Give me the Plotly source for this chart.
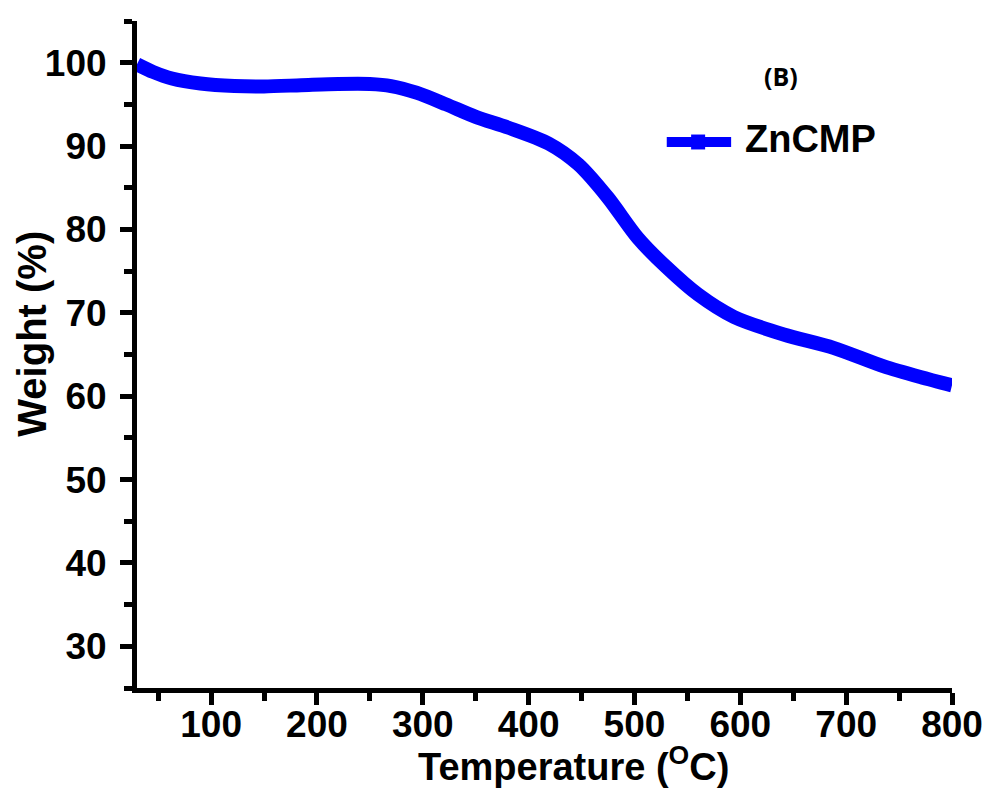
import plotly.graph_objects as go

# TGA curve of ZnCMP: temperature (°C) vs residual weight (%)
temperature = [30, 45, 63, 90, 122, 150, 185, 220, 250, 270, 294, 322, 350, 381,
               419, 447, 475, 503, 530, 560, 594, 641, 688, 735, 770, 800]
weight = [99.8, 98.9, 98.1, 97.5, 97.2, 97.15, 97.3, 97.45, 97.45, 97.2, 96.4,
          95.0, 93.5, 92.2, 90.3, 87.8, 83.8, 79.0, 75.5, 72.2, 69.5, 67.4,
          65.8, 63.6, 62.3, 61.3]

x_ticks = [100, 200, 300, 400, 500, 600, 700, 800]
y_ticks = [30, 40, 50, 60, 70, 80, 90, 100]
series_name = "ZnCMP"
panel_label = "(B)"

BLUE = "#0000FF"
FONT = "Liberation Sans"

fig = go.Figure()
fig.add_trace(go.Scatter(
    x=temperature, y=weight, mode="lines", name=series_name,
    line=dict(color=BLUE, width=14, shape="spline", smoothing=0.8),
    showlegend=False,
))

axis_common = dict(
    showline=True, linecolor="black", linewidth=5,
    ticks="outside", ticklen=12, tickwidth=5, tickcolor="black",
    showgrid=False, zeroline=False, mirror=False,
    tickfont=dict(family=FONT, size=37, color="black", weight="bold"),
)

fig.update_xaxes(
    range=[30, 800], tickvals=x_ticks, ticklabelstandoff=-12,
    minor=dict(dtick=50, tick0=0, ticks="outside", ticklen=8, tickwidth=5,
               tickcolor="black"),
    **axis_common,
)
fig.update_yaxes(
    range=[25, 105], tickvals=y_ticks, ticklabelstandoff=6,
    minor=dict(dtick=5, tick0=0, ticks="outside", ticklen=8, tickwidth=5,
               tickcolor="black"),
    **axis_common,
)

# axis titles
fig.add_annotation(
    text="Temperature (<sup>O</sup>C)", xref="paper", yref="paper",
    x=0.536, y=-0.114, showarrow=False, xanchor="center", yanchor="middle",
    font=dict(family=FONT, size=38, color="black", weight="bold"),
)
fig.add_annotation(
    text="Weight (%)", xref="paper", yref="paper", textangle=-90,
    x=-0.129, y=0.531, showarrow=False, xanchor="center", yanchor="middle",
    font=dict(family=FONT, size=40, color="black", weight="bold"),
)

# panel label
fig.add_annotation(
    text=panel_label, xref="paper", yref="paper", x=0.790, y=0.918,
    showarrow=False, xanchor="center", yanchor="middle",
    font=dict(family="Open Sans", size=25, color="black", weight="bold"),
)

# legend entry: line with square marker, followed by the series name
ly = 0.8186
fig.add_shape(type="line", xref="paper", yref="paper",
              x0=0.650, x1=0.729, y0=ly, y1=ly,
              line=dict(color=BLUE, width=10))
fig.add_shape(type="rect", xref="paper", yref="paper",
              x0=0.6885 - 0.0086, x1=0.6885 + 0.0086,
              y0=ly - 0.0112, y1=ly + 0.0112,
              line=dict(width=0), fillcolor=BLUE)
fig.add_annotation(
    text=series_name, xref="paper", yref="paper", x=0.744, y=ly + 0.004,
    showarrow=False, xanchor="left", yanchor="middle",
    font=dict(family=FONT, size=38, color="black", weight="bold"),
)

fig.update_layout(
    width=995, height=796,
    margin=dict(l=137, r=38, t=21, b=108),
    paper_bgcolor="white", plot_bgcolor="white",
)

fig.write_html("out.html")
